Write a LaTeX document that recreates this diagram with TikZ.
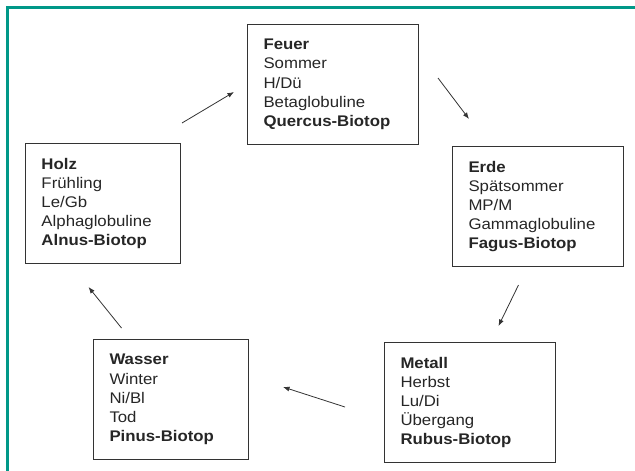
\documentclass[tikz,border=0pt]{standalone}
\usepackage{fontspec}
\setmainfont[FakeStretch=1.09]{Liberation Sans}
\usetikzlibrary{arrows.meta,calc}
\definecolor{rahmen}{RGB}{0,152,136}
\tikzset{
  element/.style={draw=black!80, line width=1pt, anchor=north west, align=left,
    inner xsep=16pt, inner ysep=0pt, minimum height=120pt, text=black!85,
    font=\fontsize{15.4}{19.2}\selectfont},
  breit/.style={element, text width=139pt},
  schmal/.style={element, text width=123pt},
  zyklus/.style={-{Latex[length=6.5pt,width=5pt]}, black!80, line width=0.8pt}
}
\begin{document}
\begin{tikzpicture}[x=1pt,y=-1pt]
		\useasboundingbox (0,0) rectangle (635,471);
		\draw[rahmen, line width=3pt] (7,471) -- (7,7) -- (635,7);
		\node[breit] (feuer) at (247,24) {\textbf{Feuer}\\Sommer\\H/Dü\\Betaglobuline\\\textbf{Quercus-Biotop}};
		\node[breit] (erde) at (452,146) {\textbf{Erde}\\Spätsommer\\MP/M\\Gammaglobuline\\\textbf{Fagus-Biotop}};
		\node[breit] (metall) at (384,342) {\textbf{Metall}\\Herbst\\Lu/Di\\Übergang\\\textbf{Rubus-Biotop}};
		\node[schmal] (wasser) at (93,339) {\textbf{Wasser}\\Winter\\Ni/Bl\\Tod\\\textbf{Pinus-Biotop}};
		\node[schmal] (holz) at (25,143) {\textbf{Holz}\\Frühling\\Le/Gb\\Alphaglobuline\\\textbf{Alnus-Biotop}};
		%\path[zyklus] (holz) edge (feuer);
		\path[zyklus] ($(holz.north east)+(1,-20)$) edge ($(feuer.west)+(-13,7.5)$);
		\path[zyklus] ($(feuer.east)+(19,-6.5)$) edge ($(erde.north west)+(17,-27)$);
		\path[zyklus] ($(erde.south)+(-19.5,18)$) edge ($(metall.north)+(28.5,-16)$);
		\path[zyklus] ($(metall.west)+(-39,4.5)$) edge ($(wasser.east)+(34,-12.5)$);
		\path[zyklus] ($(wasser.north)+(-49.5,-11)$) edge ($(holz.south)+(-14.5,23)$);
	\end{tikzpicture}
\end{document}
